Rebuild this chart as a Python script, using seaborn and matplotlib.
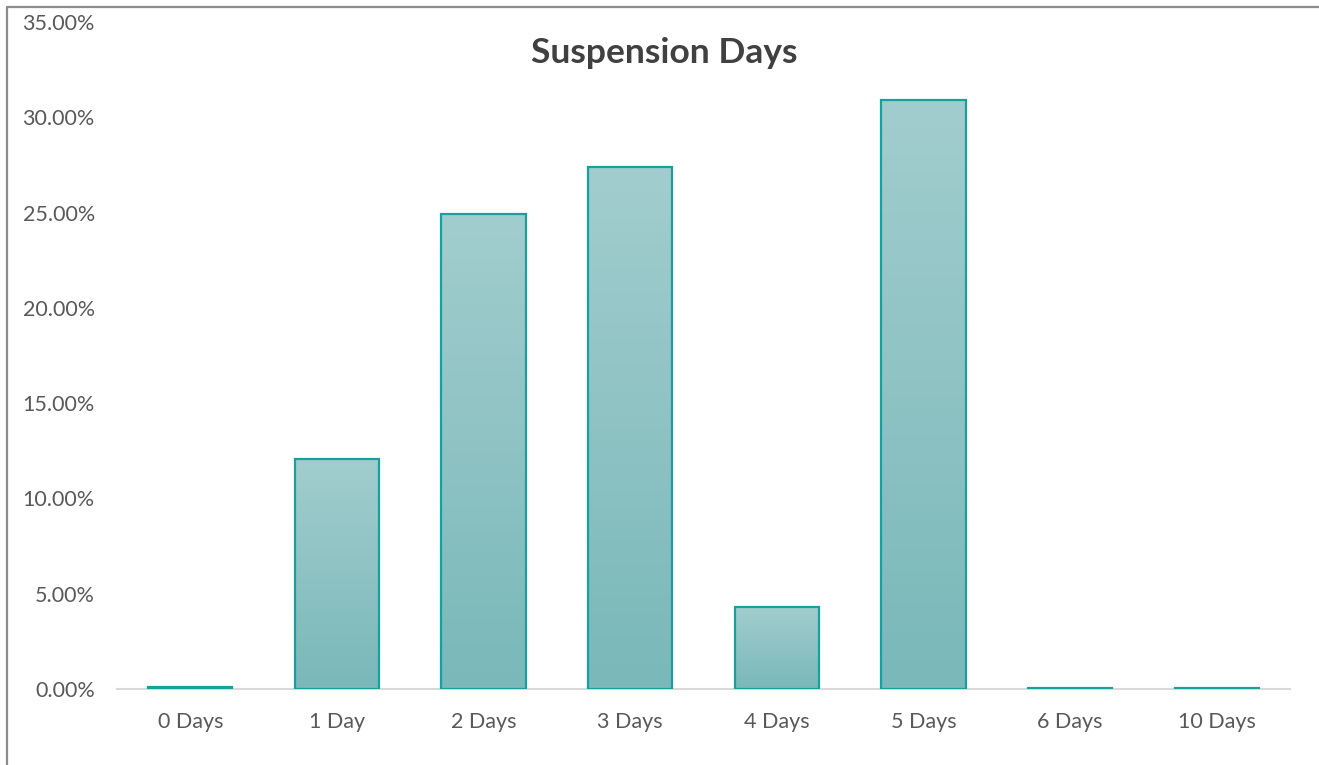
import matplotlib
matplotlib.use("Agg")
import matplotlib.pyplot as plt
import numpy as np
import pandas as pd
import seaborn as sns
from matplotlib.colors import LinearSegmentedColormap
from matplotlib.ticker import FuncFormatter, MultipleLocator

categories = ["0 Days", "1 Day", "2 Days", "3 Days", "4 Days", "5 Days", "6 Days", "10 Days"]
values = [0.10, 12.07, 24.93, 27.39, 4.30, 30.90, 0.03, 0.03]
title = "Suspension Days"

sns.set_theme(style="white")
plt.rcParams["font.family"] = ["Lato", "DejaVu Sans"]

W, H = 1319, 765
fig = plt.figure(figsize=(W / 100, H / 100), dpi=100)
ax = fig.add_axes([117 / W, 1 - 689 / H, (1290 - 117) / W, (689 - 22) / H])

df = pd.DataFrame({"cat": categories, "val": values})
sns.barplot(data=df, x="cat", y="val", ax=ax, width=0.575,
            color="#8FC2C3", edgecolor="#17A09E", linewidth=1.6, zorder=3)

# gradient fill clipped to each bar
cmap = LinearSegmentedColormap.from_list("g", ["#7AB8B9", "#A2CDCE"])
grad = np.linspace(0, 1, 256).reshape(-1, 1)
for p in ax.patches:
    x0, y0 = p.get_x(), p.get_y()
    w, h = p.get_width(), p.get_height()
    if h <= 0:
        continue
    im = ax.imshow(grad, cmap=cmap, origin="lower", aspect="auto",
                   extent=[x0, x0 + w, y0, y0 + h], zorder=2.5)
    im.set_clip_path(p)
    p.set_facecolor("none")

ax.set_xlim(-0.5, len(categories) - 0.5)
ax.set_ylim(0, 35)
ax.yaxis.set_major_locator(MultipleLocator(5))
ax.yaxis.set_major_formatter(FuncFormatter(lambda v, _: f"{v:.2f}%"))
ax.set_xlabel("")
ax.set_ylabel("")
ax.tick_params(axis="both", length=0, labelsize=15.5, labelcolor="#595959")
ax.tick_params(axis="x", pad=16.5)
ax.tick_params(axis="y", pad=16)
for s in ["left", "right", "top"]:
    ax.spines[s].set_visible(False)
ax.spines["bottom"].set_color("#D9D9D9")
ax.spines["bottom"].set_linewidth(1.5)
ax.spines["bottom"].set_zorder(2)
ax.grid(False)

fig.text(664 / W, 1 - 53 / H, title, ha="center", va="center",
         fontsize=25.5, fontweight="bold", color="#404040")

# outer frame (partially visible)
fig.add_artist(plt.Line2D([7 / W, 1.0], [1 - 7 / H, 1 - 7 / H], transform=fig.transFigure,
                          color="#8C8C8C", linewidth=1.6))
fig.add_artist(plt.Line2D([7 / W, 7 / W], [1 - 7 / H, 0.0], transform=fig.transFigure,
                          color="#8C8C8C", linewidth=1.6))

fig.savefig("out.png", dpi=100, facecolor="white")
